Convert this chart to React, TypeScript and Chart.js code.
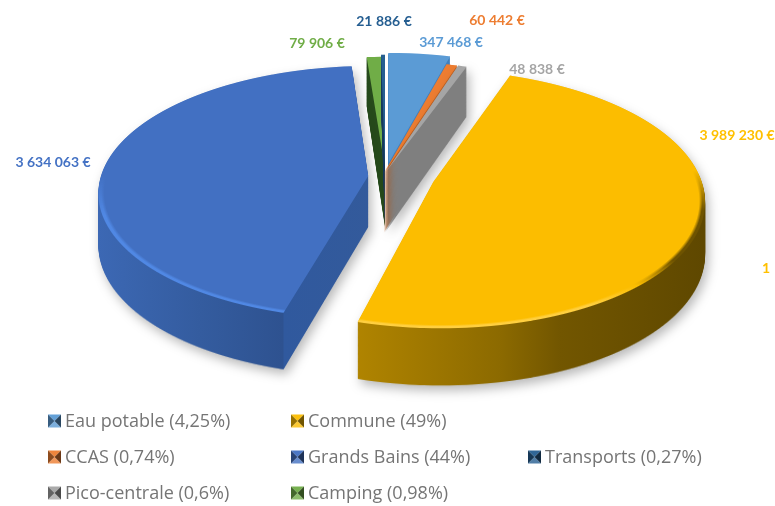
import React, { useEffect, useRef } from "react";
import { Chart, registerables } from "chart.js";

Chart.register(...registerables);

const W = 775;
const H = 506;

// data (clockwise from the top)
const categories = ["Eau potable", "CCAS", "Pico-centrale", "Commune", "Grands Bains", "Camping", "Transports"];
const values = [347468, 60442, 48838, 3989230, 3634063, 79906, 21886];
const valueLabels = ["347 468 €", "60 442 €", "48 838 €", "3 989 230 €", "3 634 063 €", "79 906 €", "21 886 €"];
const percentLabels = ["4,25%", "0,74%", "0,6%", "49%", "44%", "0,98%", "0,27%"];

// styles
const topColors = ["#5B9BD5", "#ED7D31", "#A5A5A5", "#FCBD00", "#4270C2", "#70AD47", "#255E91"];
const labelColors = ["#5B9BD5", "#ED7D31", "#A5A5A5", "#FFC000", "#4472C4", "#70AD47", "#255E91"];
const explode = [0.03, 0, 0, 0.205, 0.075, 0, 0];
const sliceScale = [1, 1, 1, 0.98, 0.97, 1, 1];
const sliceScaleX = [1, 1, 1, 1.015, 1.027, 1, 1];
const nudgeX = [0.01, -0.004, 0, -0.016, 0.012, 0, 0];
const nudgeY = [-0.01, 0.04, 0.04, 0.045, 0.07, 0, -0.02];
const depthA = [43.7, 43.7, 43.7, 44, 44, 43.7, 43.7];
const depthB = [0.09, 0.09, 0.09, 0.04, 0.04, 0.09, 0.09];
const paintOrder = [5, 6, 0, 1, 2, 4, 3];
const sideStops: [number, string][][] = [
  [[0, "#3F7FBD"]],
  [[0, "#C0601F"]],
  [[0, "#7F7F7F"]],
  [[357, "#B08400"], [500, "#8C6A00"], [560, "#725600"], [703, "#5F4800"]],
  [[98, "#3C68B4"], [200, "#345C9F"], [283, "#2E5290"], [284, "#30599E"], [370, "#335A9B"]],
  [[0, "#264A1B"]],
  [[0, "#16395C"]],
];
const labelAnchors: [number, number][] = [
  [451, 42], [497, 20], [537, 69], [737, 135], [53, 162], [317, 43], [384, 21],
];
const legendAnchors: [number, number][] = [
  [48, 421], [48, 457], [48, 493], [291, 421], [291, 457], [291, 493], [528, 457],
];

// projected disc
const CX = 385;
const CY = 168;
const RX = 266;
const RY = 126;
const K = 0.133;

function mix(a: string, b: string, t: number) {
  const p = (h: string, i: number) => parseInt(h.slice(1 + i * 2, 3 + i * 2), 16);
  const c = [0, 1, 2].map((i) => Math.round(p(a, i) + (p(b, i) - p(a, i)) * t));
  return `rgb(${c[0]},${c[1]},${c[2]})`;
}
const clamp = (v: number) => Math.max(0, Math.min(1, v));

function rimFor(i: number, y: number): [string, number] {
  if (i === 3) {
    if (y > 285) return ["#FFCF40", clamp((y - 285) / 20)];
    return ["#6E5300", clamp((y - 170) / 40) * clamp((285 - y) / 25)];
  }
  if (i === 4) return ["#5088E4", clamp((y - 175) / 40)];
  return ["#FFFFFF", 0];
}

function warpSlice(ctx: CanvasRenderingContext2D, el: any, i: number, flat: boolean) {
  const baseRadius = el.outerRadius;
  const r = baseRadius;
  const half = (el.startAngle + el.endAngle) / 2;
  const ox = (Math.cos(half) * explode[i] + nudgeX[i]) * r;
  const oy = (Math.sin(half) * explode[i] + nudgeY[i]) * r;
  const saved = el.options;
  el.outerRadius = baseRadius * sliceScale[i];
  for (let y = 30; y < 350; y++) {
    const t = (y + 0.5 - CY) / RY;
    const Yn = -t / (1 + K * t);
    const s = 1 / (1 + K * Yn);
    const a = (RX * s) / r;
    const d = (RY * s * s) / r;
    const v0 = el.y - r * Yn;
    ctx.save();
    ctx.setTransform(1, 0, 0, 1, 0, 0);
    ctx.beginPath();
    ctx.rect(0, y, W, 1);
    ctx.clip();
    ctx.setTransform(a, 0, 0, d, CX - a * el.x, y + 0.5 - d * v0);
    ctx.translate(ox + el.x, oy);
    ctx.scale(sliceScaleX[i], 1);
    ctx.translate(-el.x, 0);
    let fill: any = "#000000";
    if (!flat) {
      const [rim, amt] = rimFor(i, y);
      fill = topColors[i];
      if (amt > 0) {
        const g = ctx.createRadialGradient(el.x, el.y, 0, el.x, el.y, el.outerRadius);
        const c = mix(topColors[i], rim, amt);
        g.addColorStop(0, topColors[i]);
        g.addColorStop(0.978, topColors[i]);
        g.addColorStop(0.99, c);
        g.addColorStop(1, c);
        fill = g;
      }
    }
    el.options = { ...saved, backgroundColor: fill, borderWidth: 0, offset: 0 };
    el.draw(ctx);
    ctx.restore();
  }
  el.options = saved;
  el.outerRadius = baseRadius;
}

function drawIcon(ctx: CanvasRenderingContext2D, x: number, cy: number, i: number) {
  const n = 13;
  const y = cy - 6.5;
  const base = topColors[i];
  const tri = (pts: number[][], c: string) => {
    ctx.fillStyle = c;
    ctx.beginPath();
    ctx.moveTo(x + pts[0][0], y + pts[0][1]);
    ctx.lineTo(x + pts[1][0], y + pts[1][1]);
    ctx.lineTo(x + n / 2, y + n / 2);
    ctx.closePath();
    ctx.fill();
  };
  tri([[0, 0], [n, 0]], mix(base, "#FFFFFF", 0.05));
  tri([[0, n], [n, n]], mix(base, "#FFFFFF", 0.2));
  tri([[0, 0], [0, n]], mix(base, "#000000", 0.4));
  tri([[n, 0], [n, n]], mix(base, "#000000", 0.55));
}

const pie3d = {
  id: "pie3d",
  beforeDatasetsDraw(chart: any) {
    const ctx: CanvasRenderingContext2D = chart.ctx;
    const arcs = chart.getDatasetMeta(0).data;
    paintOrder.forEach((i) => {
      const el = arcs[i];
      const sil = document.createElement("canvas");
      sil.width = W;
      sil.height = H;
      warpSlice(sil.getContext("2d")!, el, i, true);
      const side = document.createElement("canvas");
      side.width = W;
      side.height = H;
      const sc = side.getContext("2d")!;
      const steps = 64;
      for (let h = steps; h >= 1; h--) {
        const f = h / steps;
        sc.setTransform(1, 0, 0, 1 + depthB[i] * f, 0, depthA[i] * f);
        sc.drawImage(sil, 0, 0);
      }
      sc.setTransform(1, 0, 0, 1, 0, 0);
      sc.globalCompositeOperation = "source-atop";
      const stops = sideStops[i];
      if (stops.length === 1) {
        sc.fillStyle = stops[0][1];
      } else {
        const g = sc.createLinearGradient(stops[0][0], 0, stops[stops.length - 1][0], 0);
        const span = stops[stops.length - 1][0] - stops[0][0];
        stops.forEach(([x, c]) => g.addColorStop((x - stops[0][0]) / span, c));
        sc.fillStyle = g;
      }
      sc.fillRect(0, 0, W, H);
      ctx.save();
      ctx.setTransform(1, 0, 0, 1, 0, 0);
      if (i === 3 || i === 4 || i === 2) {
        ctx.shadowColor = "rgba(0,0,0,0.28)";
        ctx.shadowBlur = 11;
        ctx.shadowOffsetX = 3;
        ctx.shadowOffsetY = 5;
      }
      ctx.drawImage(side, 0, 0);
      ctx.restore();
      warpSlice(ctx, el, i, false);
    });
    return false;
  },
  afterDraw(chart: any) {
    const ctx: CanvasRenderingContext2D = chart.ctx;
    ctx.save();
    ctx.setTransform(1, 0, 0, 1, 0, 0);
    ctx.textBaseline = "middle";
    ctx.textAlign = "center";
    ctx.font = 'bold 14px Lato, "Open Sans", sans-serif';
    categories.forEach((_, i) => {
      ctx.fillStyle = labelColors[i];
      ctx.fillText(valueLabels[i], labelAnchors[i][0], labelAnchors[i][1]);
    });
    ctx.fillStyle = labelColors[3];
    ctx.textAlign = "left";
    ctx.fillText("1", 762, 268);
    ctx.font = '18px "Open Sans", Lato, sans-serif';
    categories.forEach((name, i) => {
      const [x, y] = legendAnchors[i];
      drawIcon(ctx, x, y, i);
      ctx.fillStyle = "#757575";
      ctx.fillText(`${name} (${percentLabels[i]})`, x + 17, y + 1);
    });
    ctx.restore();
  },
};

export default function App() {
  const ref = useRef<HTMLCanvasElement>(null);
  useEffect(() => {
    const chart = new Chart(ref.current!, {
      type: "pie",
      data: {
        labels: categories,
        datasets: [{ data: values, backgroundColor: topColors, borderWidth: 0 }],
      },
      options: {
        responsive: false,
        animation: false,
        events: [],
        plugins: { legend: { display: false }, tooltip: { enabled: false } },
      },
      plugins: [pie3d as any],
    });
    return () => chart.destroy();
  }, []);
  return (
    <canvas
      ref={ref}
      width={W}
      height={H}
      style={{ position: "absolute", left: 0, top: 0, width: W, height: H, background: "#fff" }}
    />
  );
}
